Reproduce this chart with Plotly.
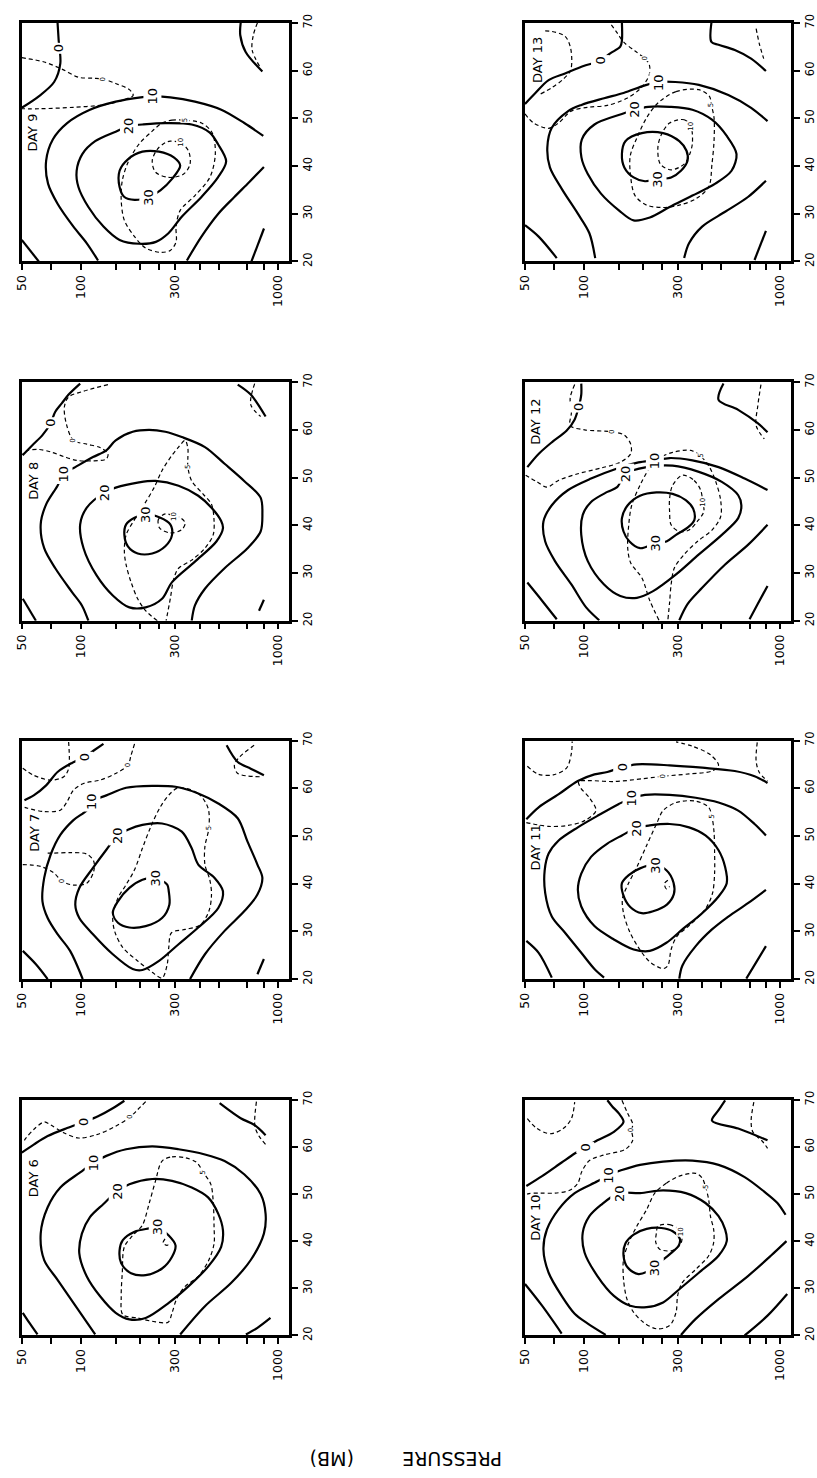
import math
import plotly.graph_objects as go

FIG_W, FIG_H = 817, 1478
FONT = "DejaVu Sans"

# ---- axes ----
P_RANGE = [50, 1140]
P_TICKS = [50, 70, 100, 150, 200, 250, 300, 400, 500, 700, 850, 1000]
P_TICK_TEXT = ["50", "", "100", "", "", "", "300", "", "", "", "", "1000"]
LAT_RANGE = [20, 70]
LAT_TICKS = [20, 30, 40, 50, 60, 70]
AXIS_TITLE = "PRESSURE" + "\u00a0" * 8 + "(MB)"

# ---- DAY 9 : (pressure mb, latitude) ----
D9_S0A = [(76, 70), (77, 66.3), (78.5, 61.5), (73, 57.6), (61, 54.6), (50, 52.2)]
D9_S0B = [(50, 24.5), (61, 20)]
D9_S0C = [(647, 70), (644, 67.4), (686, 63.9), (834, 59.8)]
D9_S0D = [(850, 26.9), (734, 20)]
D9_S10A = [(122, 20.2), (107, 23.8), (91.5, 27.3), (76, 32.1), (68, 36.3), (66.5, 41.1), (72, 45.6), (85, 49), (111, 51.8), (150, 53.5), (201, 54.4), (230, 54.6), (284, 54.4), (379, 53.5), (516, 51.8), (675, 49), (843, 46.3)]
D9_S10B = [(849, 39.8), (714, 36.6), (601, 33.5), (498, 30), (409, 25.2), (345, 20.2)]
D9_S20 = [(176, 48.4), (205, 48.7), (268, 49), (365, 48.7), (451, 47), (496, 44.6), (546, 41), (496, 37.6), (409, 33.5), (324, 29.3), (278, 25.9), (240, 24.1), (197, 23.7), (157, 24.5), (130, 27.3), (109, 31.4), (97, 35.6), (95, 39), (101.5, 42.5), (118, 45.2), (150, 47.2), (176, 48.4)]
D9_S30 = [(221, 33.5), (253, 34.9), (290, 37.3), (319, 40.1), (296, 41.8), (249, 43), (205, 43), (173, 41.4), (157, 39), (157, 35.6), (166, 33.5), (187, 32.9), (221, 33.5)]
D9_D0 = [(50, 62.7), (65, 61.8), (80, 60.3), (97, 58.6), (115, 58.4), (130, 58.2), (150, 57.3), (176, 56), (184, 54.8), (160, 53.7), (130, 52.8), (91.5, 52.3), (62, 52), (50, 52)]
D9_D5 = [(258, 49), (290, 49.6), (338, 49.6), (409, 49), (463, 47), (481, 42.5), (451, 37.6), (379, 33.8), (319, 30.7), (304, 27.3), (304, 24.1), (284, 22.3), (253, 21.9), (213, 22.8), (187, 25.2), (166, 28.6), (160, 32.8), (162, 36.9), (173, 40.7), (197, 44.6), (230, 47.3), (258, 49)]
D9_D10 = [(284, 45.2), (319, 44.9), (351, 43.2), (358, 40.4), (332, 38.3), (279, 37.6), (239, 38.7), (230, 41.1), (244, 43.5), (268, 44.9), (284, 45.2)]
D9_DTR = [(787, 70), (750, 67.4), (740, 64.3), (817, 60.5)]
D9_SL = [("0", 77, 64.6), ("10", 230, 54.6), ("20", 176, 48.4), ("30", 221, 33.5)]
D9_DL = [("0", 130, 58.2), ("5", 338, 49.6), ("10", 319, 44.9)]

# ---- DAY 13 ----
D13_S0A = [(50, 53), (56.5, 55.3), (66, 58), (80, 59.4), (93, 60.5), (102, 61.1), (120, 62), (136, 63.6), (153, 65), (156, 66.3), (156, 70)]
D13_S0B = [(446, 70), (446, 66), (485, 65.4), (587, 64.3), (711, 62.5), (846, 59.9)]
D13_S0C = [(50, 27.6), (58.7, 25.2), (72.6, 20.7)]
D13_S0D = [(846, 26.4), (740, 20.3)]
D13_S10A = [(114, 20.7), (106.5, 25.9), (93, 30), (77, 35.2), (67, 39.7), (65, 43.9), (68.5, 48), (83, 51.5), (97, 52.8), (126.5, 54.2), (159, 55.3), (204.5, 56.9), (238, 57.6), (292, 57.6), (385, 57), (544, 54.9), (711, 52.2), (862, 49.4)]
D13_S10B = [(846, 36.9), (685, 33.5), (524, 30.4), (400, 27.3), (343, 23.8), (324, 20.7)]
D13_S20 = [(182, 51.8), (212.5, 52.4), (273, 52.4), (357, 51.8), (449, 49.7), (534, 46.3), (599, 42.5), (565, 39), (467, 36.3), (357, 33.8), (273, 31.4), (216.5, 29.2), (179, 28.6), (150.5, 30.7), (122, 34.2), (104.5, 38.3), (97, 41.8), (97.5, 45.6), (113, 48.7), (156, 50.9), (182, 51.8)]
D13_S30 = [(238, 37.3), (278, 37.6), (312, 39), (337, 41.1), (333, 43.2), (306, 45.2), (253, 46.9), (197, 46.9), (162.5, 45.2), (156, 42.5), (160.5, 39.7), (179, 37.6), (204.5, 36.8), (238, 37.3)]
D13_D0A = [(63.4, 68.3), (68.5, 68.2), (80, 67.2), (85.5, 64.6), (85.5, 60.1), (78.3, 58.2), (68.5, 56.4), (60, 55.1)]
D13_D0B = [(50, 50.9), (55.4, 49), (66, 47.9), (74, 49), (86, 51.5), (104.5, 52.3), (131.5, 52.7), (165.5, 54.2), (194.5, 56.3), (215, 59.1), (215, 61.3), (204.5, 62.5), (182, 64.1), (159, 66), (147.5, 67.9), (136.5, 69.8)]
D13_D5 = [(238, 53.2), (294.5, 55.6), (385, 56), (436, 54.6), (446, 52.8), (460, 50.1), (460, 45.2), (449, 40.4), (432, 35.6), (371, 33.1), (306, 31.8), (253, 31.3), (208.5, 31.8), (182, 33.8), (173, 37.6), (172, 42.1), (186, 45.9), (208.5, 50.1), (238, 53.2)]
D13_D10 = [(273, 49), (324, 49.7), (350, 48.4), (357, 44.9), (346, 42.5), (324, 40.4), (278, 39.2), (245, 40.4), (238, 43.9), (248, 46.6), (273, 49)]
D13_DTR = [(754, 68.8), (783, 65.6), (824, 62.5)]
D13_SL = [("0", 120, 62), ("10", 238, 57.6), ("20", 182, 51.8), ("30", 238, 37.3)]
D13_DL = [("0", 204.5, 62.5), ("5", 441, 52.8), ("10", 350, 48.4)]

# ---- DAY 8 ----
D8_S0A = [(99, 69.7), (86.5, 67.4), (80, 65.6), (74, 63.8), (70, 61.4), (63.7, 58.9), (56.6, 56.8), (50.5, 54.7)]
D8_S0B = [(50.6, 24.6), (59, 20)]
D8_S0C = [(625, 69.5), (728, 67.4), (866, 62.8)]
D8_S0D = [(849, 24.4), (802, 22.1)]
D8_S10 = [(109, 20), (101, 23.2), (90, 26), (74, 31), (65, 35.2), (62.4, 40.2), (66.5, 44.4), (76, 48.3), (81.7, 50.8), (93.5, 52.2), (115, 54.3), (134.5, 55.7), (150, 57.8), (183, 59.6), (221.5, 60), (268, 59.6), (325, 58.5), (426, 56.4), (536, 52.9), (674, 49.3), (817, 45.8), (834, 42.3), (817, 38.7), (701, 35.2), (536, 31), (426, 26.7), (379, 23.2), (365, 20)]
D8_S20 = [(132, 46.9), (150, 47.9), (197, 49), (239, 49.3), (313, 48.3), (394, 46.2), (460, 43.7), (515, 40.9), (526, 39.4), (487, 36.6), (379, 32.4), (290, 28.1), (258, 24.6), (213, 22.8), (176, 22.8), (145, 25.3), (120, 29.5), (103, 35.2), (99, 40.2), (107, 43.7), (132, 46.9)]
D8_S30 = [(213, 42.3), (253, 41.6), (284, 40.2), (290, 38), (268, 35.6), (230, 34.1), (194, 34.1), (173, 35.6), (166, 38), (169.5, 40.2), (187, 41.6), (213, 42.3)]
D8_D0 = [(137, 69.5), (103, 68.1), (86.5, 66.9), (82.3, 64.8), (84.3, 61.2), (91.5, 57.8), (107, 57), (125, 56.3), (137, 55), (134.5, 53.9), (113, 53.5), (95, 53.6), (81.7, 54.4), (70, 55.4), (61, 55.9), (53.6, 55.7), (50.6, 55)]
D8_D5 = [(244, 20), (213, 22.1), (194, 24.6), (179.5, 28.1), (169.5, 31.7), (166, 34.5), (169.5, 38), (187, 41.2), (209.5, 44.4), (235, 47.9), (258, 51.5), (290, 54.7), (313, 56.4), (338, 57.8), (349, 56.1), (349, 54.3), (349, 52.2), (365, 49.3), (418, 46.5), (460, 44.4), (474, 40.9), (469, 38), (426, 35.2), (365, 32.7), (313, 31), (296, 28.8), (284, 24.6), (270.5, 20)]
D8_D10 = [(268, 42.4), (247, 41.2), (251, 39.4), (284, 38.4), (325, 39.1), (338, 40.5), (319, 41.6), (299, 41.9), (268, 42.4)]
D8_DTR = [(762, 69.7), (728, 65.3), (817, 62.8)]
D8_SL = [("0", 70, 61.4), ("10", 81.7, 50.8), ("20", 132, 46.9), ("30", 213, 42.3)]
D8_DL = [("0", 91.5, 57.8), ("5", 349, 52.2), ("10", 299, 41.9)]

# ---- DAY 12 ----
D12_S0A = [(96.8, 69.7), (96.8, 67.4), (93.8, 64.7), (89.6, 62.2), (81.4, 59.8), (68.5, 57.4), (58.8, 55), (51.4, 52.2)]
D12_S0B = [(514, 69.7), (485, 66.3), (611, 64.2), (768, 61.4), (862, 59.5)]
D12_S0C = [(51.4, 28), (61.1, 24.2), (72.6, 20.3)]
D12_S0D = [(862, 27.3), (768, 23.5), (698, 20.3)]
D12_S10A = [(119.5, 20.1), (102.5, 22.8), (86.2, 27.6), (71.1, 32.5), (63.4, 36.6), (62.1, 40.8), (68.5, 44.2), (83, 47.4), (108.6, 49.8), (147.5, 51.9), (189.5, 53.2), (229.5, 53.6), (273, 54.1), (357, 53.6), (485, 52.2), (659, 49.8), (862, 47.4)]
D12_S10B = [(862, 40.1), (685, 35.9), (524, 31.8), (400, 26.9), (337, 23.5), (306, 20.1)]
D12_S20 = [(162.5, 50.8), (208.5, 52.2), (283, 52.5), (385, 51.2), (504, 49.1), (611, 46.3), (634, 44.2), (611, 41.5), (504, 38), (385, 33.9), (294.5, 29.7), (225, 26.2), (186, 24.8), (153, 25.2), (126.5, 27.6), (104.5, 32.5), (96.8, 38), (98.5, 42.2), (108.6, 44.9), (131.5, 47), (147.5, 48), (162.5, 50.8)]
D12_S30 = [(234, 36.3), (193, 35.2), (170.5, 36.6), (159, 38.7), (156, 41.5), (167, 44.2), (193, 46.2), (234, 46.9), (283, 46.6), (330, 45.3), (360, 43.5), (365, 41.1), (337, 39.5), (294.5, 38), (263, 36.6), (234, 36.3)]
D12_D0 = [(89.6, 69.5), (85, 66.7), (86.2, 63.6), (85, 60.9), (100.6, 60), (139.3, 59.6), (160.5, 58.9), (173, 57), (173, 55), (153, 53.2), (122, 52), (93, 50.8), (74, 49.4), (64.7, 48), (57.6, 49.1), (50.4, 50.5)]
D12_D5 = [(241, 20.1), (216.5, 24.2), (197, 29), (173, 32.1), (167, 35.2), (169, 40.1), (175, 44.2), (193, 48.4), (215, 51.9), (238, 53.9), (283, 55.3), (350, 55.7), (393, 54.5), (436, 52.2), (470, 49.1), (497, 45.3), (497, 41.8), (449, 39), (378, 36.6), (324, 33.9), (289, 31.1), (278, 27.6), (273, 23.8), (267.5, 20.1)]
D12_D10 = [(318, 50.5), (364, 49.4), (393, 47.4), (403, 44.9), (408, 42.9), (378, 40.8), (343, 39), (306, 38.7), (278, 40.1), (273, 42.9), (273, 45.6), (283, 48.4), (318, 50.5)]
D12_DTR = [(798, 69.5), (768, 64.9), (754, 60.9), (830, 58.1)]
D12_SL = [("0", 93.8, 64.7), ("10", 229.5, 53.6), ("20", 162.5, 50.8), ("30", 234, 36.3)]
D12_DL = [("0", 139.3, 59.6), ("5", 393, 54.5), ("10", 403, 44.9)]

# ---- DAY 7 ----
D7_S0A = [(130, 69.3), (116, 67.9), (103.7, 66.5), (90, 65.3), (76, 63.4), (66.5, 60.6), (57.5, 58.5), (51.6, 57.5)]
D7_S0B = [(50.6, 25.9), (59, 23.1), (67.7, 20)]
D7_S0C = [(549, 69), (625, 65.5), (728, 64.1), (849, 62.7)]
D7_S0D = [(849, 24.2), (787, 21)]
D7_S10 = [(102, 20), (88, 25.9), (76, 29.4), (67.7, 32.8), (63.7, 36.3), (65, 41.2), (70, 46), (78.5, 50.2), (91.5, 53.3), (107, 55.4), (113, 57.2), (134.5, 58.5), (169.5, 60.1), (230, 60.5), (302, 60.3), (394, 58.9), (498, 56.8), (625, 53.7), (701, 48.8), (787, 44), (834, 41.2), (787, 37.7), (674, 34.2), (536, 30.1), (426, 25.2), (358, 20)]
D7_S20 = [(154, 50.2), (134.5, 47.1), (115, 43.3), (98, 39.1), (93.5, 35.6), (98, 32.8), (115, 29.4), (145, 25.2), (183, 22.1), (205, 21.9), (249, 23.8), (313, 27.3), (394, 30.8), (498, 34.9), (526, 38.4), (477, 41.2), (394, 44), (365, 47.4), (325, 50.9), (258, 52.6), (205, 52.3), (173, 51.3), (154, 50.2)]
D7_S30 = [(239, 41.2), (274, 39.8), (279, 38.4), (281, 35.6), (258, 32.8), (213, 31.1), (176, 30.8), (154, 31.8), (145, 33.9), (154, 36.3), (176, 39.1), (205, 40.8), (239, 41.2)]
D7_D0A = [(50.6, 64.2), (57.5, 62.7), (70, 61.7), (81.7, 62.4), (86.5, 64.1), (86.5, 69.7)]
D7_D0B = [(187, 69.3), (179.5, 66.9), (173, 64.8), (150, 63.1), (125, 61.7), (103, 61), (91.5, 59.6), (85, 57.2), (78.5, 55.4), (65, 55.1), (53.6, 55.8), (50.6, 56.1)]
D7_D0C = [(50.6, 44), (62.4, 43.6), (73, 42.2), (80, 40.5), (91.5, 39.7), (107, 40.1), (116, 42.6), (116, 44.7), (107, 46.2), (88, 46.5), (73, 46.4), (67.7, 46.4)]
D7_D5 = [(313, 60.1), (394, 58.9), (442, 55.8), (446, 51.6), (426, 47.8), (426, 44), (451, 40.8), (460, 37.7), (446, 34.2), (402, 31.3), (338, 30.4), (288, 29.7), (279, 26.6), (274, 23.1), (258, 20.2), (230, 21.4), (194, 23.8), (163, 26.6), (148, 30.1), (145, 33.2), (154, 37), (169.5, 39.8), (187, 42.9), (205, 47.4), (226, 51.9), (253, 56.1), (284, 58.9), (313, 60.1)]
D7_DTR = [(757, 69), (637, 66.5), (601, 64.8), (625, 63.1), (817, 62.4)]
D7_SL = [("0", 103.7, 66.5), ("10", 113, 57.2), ("20", 154, 50.2), ("30", 239, 41.2)]
D7_DL = [("0", 173, 64.8), ("0", 80, 40.5), ("5", 446, 51.6)]

# ---- DAY 11 ----
D11_S0A = [(50.8, 53.5), (58.7, 56), (74, 58.7), (93, 61.5), (113, 62.9), (131.5, 63.4), (156, 64.4), (186, 65), (273, 64.8), (400, 64.3), (587, 63.6), (740, 62.5), (862, 61.1)]
D11_S0B = [(50.8, 28), (58.7, 25.5), (68.5, 20.3)]
D11_S0C = [(846, 26.9), (754, 23.5), (672, 20.1)]
D11_S10A = [(126.5, 20.3), (113, 22.1), (96.8, 25.5), (80, 29.7), (68.5, 33.1), (63.4, 38), (63, 42.8), (66, 46.3), (74, 49), (93, 51.8), (117, 54.2), (150.5, 56.7), (174, 57.9), (204.5, 58.6), (273, 58.6), (371, 58), (485, 57), (611, 55.3), (740, 52.5), (846, 50.1)]
D11_S10B = [(846, 38.7), (685, 35.9), (544, 33.1), (449, 30.4), (371, 26.9), (317, 22.8), (306, 20.1)]
D11_S20 = [(186, 51.7), (216.5, 52.2), (273, 52.5), (343, 51.8), (416, 50.1), (485, 47), (524, 43.5), (534, 40.1), (485, 37.3), (400, 33.8), (317, 30.4), (263, 27.6), (216.5, 25.9), (179, 26.2), (142, 28.3), (113, 31.1), (96.8, 35.2), (93, 38.7), (96.8, 42.1), (108.6, 45.6), (131.5, 48.4), (156, 50.1), (186, 51.7)]
D11_S30 = [(229.5, 43.9), (263, 42.8), (286, 40.2), (287, 37.8), (264.5, 35.6), (225, 34.2), (197, 33.8), (172, 35.1), (158, 37.8), (156, 40.1), (169, 41.8), (193, 43.2), (229.5, 43.9)]
D11_D0A = [(51.4, 64.6), (58.7, 62.9), (69.7, 62.8), (81.4, 64.2), (86.2, 67.3), (87, 69.8)]
D11_D0B = [(50.8, 52.8), (66, 52), (83, 52.2), (100.6, 53.2), (115, 55.3), (106.5, 58), (96, 60.1), (93.8, 61.4), (104.5, 61.6), (142, 61.4), (200.5, 62), (253, 62.5), (343, 63), (449, 63.6), (485, 64.8), (441, 67), (357, 68.8), (294.5, 69.7)]
D11_D5 = [(253, 55.3), (294.5, 57), (371, 57.3), (432, 56), (449, 54), (460, 50.8), (463, 46.6), (463, 42.1), (452, 38), (419, 34.9), (378, 32.8), (337, 30.9), (297, 28.9), (278, 26.2), (267.5, 22.8), (253, 22.2), (216.5, 23.6), (189.5, 26.6), (170.5, 30), (159, 33.8), (157, 36.9), (167, 39.7), (186, 43.5), (208.5, 48), (234, 52.5), (253, 55.3)]
D11_D10 = [(267.5, 40.7), (257, 40), (263, 38.9), (273, 39.4)]
D11_DTR = [(764, 69.6), (754, 65.7), (783, 63.3), (862, 61.5)]
D11_SL = [("0", 156, 64.4), ("10", 174, 57.9), ("20", 186, 51.7), ("30", 229.5, 43.9)]
D11_DL = [("0", 253, 62.5), ("5", 449, 54)]

# ---- DAY 6 ----
D6_S0A = [(50, 58.8), (57.5, 60.5), (67.7, 62.3), (85, 64), (103.7, 65.3), (122, 66.5), (145, 68.2), (166, 69.8)]
D6_S0B = [(50.6, 24.8), (54.6, 22.7), (60.1, 20.2)]
D6_S0C = [(506, 69.3), (647, 66.1), (757, 64.7), (866, 62.5)]
D6_S0D = [(917, 23.7), (787, 21.6), (688, 20.2)]
D6_S10 = [(118, 20.2), (91.5, 26.9), (76, 31.8), (65, 36), (62.4, 41.6), (67.7, 47.2), (78.5, 51.4), (99, 54.6), (116, 56.7), (134.5, 58.1), (169.5, 59.5), (230, 60.1), (313, 59.5), (426, 58.4), (536, 57), (674, 54.2), (817, 50), (866, 45.8), (849, 41.6), (728, 36), (578, 31.1), (426, 26.2), (319, 20.2)]
D6_S20 = [(154, 50.7), (176, 52.1), (230, 53.2), (290, 52.8), (365, 51.4), (442, 49.3), (498, 45.8), (526, 42.3), (515, 38.8), (442, 34.6), (351, 30.4), (279, 26.9), (213, 23.7), (176, 23.4), (150, 24.8), (125, 28.3), (107, 32.5), (98, 37.4), (101, 41.6), (111, 45.1), (130, 47.9), (154, 50.7)]
D6_S30 = [(244, 43), (279, 41.2), (302, 39.1), (290, 36.7), (258, 34.2), (213, 32.8), (179.5, 33.2), (160, 35.3), (157, 38.1), (163, 40.2), (187, 42), (221.5, 42.7), (244, 43)]
D6_D0 = [(213, 69.6), (194, 67.9), (177, 66.3), (150, 64.4), (120, 62.6), (97, 61.9), (81.7, 63), (70, 64.7), (65, 65.3), (57.5, 63.7), (52.6, 61.9), (51.2, 61.2)]
D6_D5 = [(258, 57), (290, 57.9), (338, 57.7), (387, 56.7), (418, 54.6), (456, 52.1), (469, 48.6), (474, 43), (474, 39.5), (446, 36), (394, 32.5), (338, 30.4), (307, 27.9), (290, 24.8), (277, 22.8), (230, 23), (194, 23.7), (163, 24.4), (160, 28.3), (162, 33.2), (166, 38.8), (183, 41.2), (205, 43.4), (221.5, 47.9), (239, 52.8), (258, 57)]
D6_D10 = [(267, 40.5), (261, 39.6), (274, 39.1), (284, 39.8)]
D6_DTR = [(778, 69.6), (764, 64.4), (802, 62.3), (866, 60.5)]
D6_SL = [("0", 103.7, 65.3), ("10", 116, 56.7), ("20", 154, 50.7), ("30", 244, 43)]
D6_DL = [("0", 177, 66.3), ("5", 418, 54.6)]

# ---- DAY 10 ----
D10_S0A = [(50.8, 51.7), (61.1, 53.8), (76.9, 56.7), (89.6, 58.6), (101.3, 59.9), (117, 61.4), (142, 63.2), (159, 65.3), (150.5, 67.1), (139.3, 68.6), (131.5, 69.9)]
D10_S0B = [(50, 30.9), (61.1, 26.3), (76.9, 20.4)]
D10_S0C = [(524, 69.9), (485, 67.8), (449, 65.6), (611, 63.9), (862, 61.4)]
D10_S0D = [(1086, 28.8), (862, 24.2), (659, 20)]
D10_S10A = [(129, 20.1), (104.5, 22.5), (89.6, 24.6), (76.9, 28.4), (66, 33.3), (62.1, 38.3), (64.7, 42.5), (74, 46.7), (89.6, 50.2), (117, 52.7), (134, 54.1), (156, 55.1), (193, 56.2), (253, 56.9), (357, 57.1), (485, 56.2), (659, 53.6), (830, 50.5), (968, 48.1), (1065, 45.6)]
D10_S10B = [(1077, 40), (896, 36.9), (685, 32.6), (485, 27.7), (371, 23.5), (312, 20.1)]
D10_S20 = [(150.5, 50.2), (193, 50.2), (253, 50.8), (330, 50.2), (416, 48.1), (485, 45.3), (524, 42.5), (534, 40), (485, 36.9), (385, 33.3), (306, 29.8), (253, 27), (208.5, 26), (172, 26.3), (142, 28.4), (117, 32.6), (100.6, 37.6), (98.5, 41.8), (106.5, 45.3), (122, 47.7), (150.5, 50.2)]
D10_S30 = [(229.5, 34.4), (189.5, 33), (167, 34.4), (159, 36.9), (162.5, 39.5), (179, 41.4), (208.5, 42.6), (248, 42.8), (283, 42.1), (308, 40.5), (304, 39.1), (273, 37.2), (241, 35.4), (229.5, 34.4)]
D10_D0A = [(51.4, 66), (57.6, 63.9), (67.2, 62.8), (78.3, 63.9), (86.2, 66), (89.6, 69.5)]
D10_D0B = [(156, 69.9), (167, 67.1), (177, 64.9), (175, 63.5), (177, 61.4), (162.5, 59.5), (126.5, 58.3), (106.5, 57.1), (97.5, 54.8), (93, 52.3), (84.5, 50.8), (71.1, 50.2), (59.8, 50.2), (52.4, 50.1), (50, 49.8)]
D10_D5 = [(229.5, 50.2), (263, 52.3), (306, 53.8), (371, 54.4), (400, 53.4), (416, 51.6), (432, 48.8), (441, 45.3), (458, 42.5), (458, 39.7), (432, 36.9), (371, 34), (317, 31.2), (300, 28.4), (294.5, 24.9), (273, 22.1), (234, 21.4), (200.5, 22.8), (179, 24.9), (165.5, 27.7), (159, 31.9), (159, 36.2), (169, 39.7), (186, 43.2), (208.5, 46.7), (229.5, 50.2)]
D10_D10 = [(238, 43.2), (273, 43.5), (312, 42.1), (312, 39.5), (281, 38), (243, 38.3), (232, 39.8), (234, 41.8), (238, 43.2)]
D10_DTR = [(734, 69.5), (711, 65.6), (725, 63.2), (815, 61.1), (862, 59.7)]
D10_SL = [("0", 101.3, 59.9), ("10", 134, 54.1), ("20", 150.5, 50.2), ("30", 229.5, 34.4)]
D10_DL = [("0", 175, 63.5), ("5", 416, 51.6), ("10", 312, 42.1)]

# ---- panel table ----
PANELS = [
    dict(day="DAY 9", col=0, row=0, day_at=(57, 47.0),
         solid=[D9_S0A, D9_S0B, D9_S0C, D9_S0D, D9_S10A, D9_S10B, D9_S20, D9_S30],
         dashed=[D9_D0, D9_D5, D9_D10, D9_DTR], sl=D9_SL, dl=D9_DL),
    dict(day="DAY 8", col=0, row=1, day_at=(57.6, 49.3),
         solid=[D8_S0A, D8_S0B, D8_S0C, D8_S0D, D8_S10, D8_S20, D8_S30],
         dashed=[D8_D0, D8_D5, D8_D10, D8_DTR], sl=D8_SL, dl=D8_DL),
    dict(day="DAY 7", col=0, row=2, day_at=(57.5, 50.6),
         solid=[D7_S0A, D7_S0B, D7_S0C, D7_S0D, D7_S10, D7_S20, D7_S30],
         dashed=[D7_D0A, D7_D0B, D7_D0C, D7_D5, D7_DTR], sl=D7_SL, dl=D7_DL),
    dict(day="DAY 6", col=0, row=3, day_at=(57.5, 53.3),
         solid=[D6_S0A, D6_S0B, D6_S0C, D6_S0D, D6_S10, D6_S20, D6_S30],
         dashed=[D6_D0, D6_D5, D6_D10, D6_DTR], sl=D6_SL, dl=D6_DL),
    dict(day="DAY 13", col=1, row=0, day_at=(57.5, 62.2),
         solid=[D13_S0A, D13_S0B, D13_S0C, D13_S0D, D13_S10A, D13_S10B, D13_S20, D13_S30],
         dashed=[D13_D0A, D13_D0B, D13_D5, D13_D10, D13_DTR], sl=D13_SL, dl=D13_DL),
    dict(day="DAY 12", col=1, row=1, day_at=(56.6, 61.6),
         solid=[D12_S0A, D12_S0B, D12_S0C, D12_S0D, D12_S10A, D12_S10B, D12_S20, D12_S30],
         dashed=[D12_D0, D12_D5, D12_D10, D12_DTR], sl=D12_SL, dl=D12_DL),
    dict(day="DAY 11", col=1, row=2, day_at=(56.6, 47.5),
         solid=[D11_S0A, D11_S0B, D11_S0C, D11_S10A, D11_S10B, D11_S20, D11_S30],
         dashed=[D11_D0A, D11_D0B, D11_D5, D11_D10, D11_DTR], sl=D11_SL, dl=D11_DL),
    dict(day="DAY 10", col=1, row=3, day_at=(56, 44.9),
         solid=[D10_S0A, D10_S0B, D10_S0C, D10_S0D, D10_S10A, D10_S10B, D10_S20, D10_S30],
         dashed=[D10_D0A, D10_D0B, D10_D5, D10_D10, D10_DTR], sl=D10_SL, dl=D10_DL),
]

COL_PX = [(14, 286), (526, 797)]
ROW_PX = [(14, 255), (377, 618), (739, 980), (1102, 1340)]

fig = go.Figure()
annotations = []
layout_axes = {}

for i, pn in enumerate(PANELS, start=1):
    sfx = "" if i == 1 else str(i)
    xref, yref = "x" + sfx, "y" + sfx
    x0, x1 = COL_PX[pn["col"]]
    y0, y1 = ROW_PX[pn["row"]]
    layout_axes["xaxis" + sfx] = dict(
        domain=[x0 / FIG_W, x1 / FIG_W], anchor=yref, type="log",
        range=[math.log10(P_RANGE[0]), math.log10(P_RANGE[1])],
        tickvals=P_TICKS, ticktext=P_TICK_TEXT, tickangle=-90,
        ticks="outside", ticklen=6, tickwidth=1.8, tickcolor="black",
        showline=True, linewidth=2.5, linecolor="black", mirror=True,
        showgrid=False, zeroline=False,
        tickfont=dict(family=FONT, size=12.5, color="black"),
    )
    layout_axes["yaxis" + sfx] = dict(
        domain=[1 - y1 / FIG_H, 1 - y0 / FIG_H], anchor=xref, side="right",
        range=LAT_RANGE, tickvals=LAT_TICKS, tickangle=-90,
        ticks="outside", ticklen=6, tickwidth=1.8, tickcolor="black",
        showline=True, linewidth=2.5, linecolor="black", mirror=True,
        showgrid=False, zeroline=False,
        tickfont=dict(family=FONT, size=11.5, color="black"),
    )
    for seg in pn["solid"]:
        fig.add_trace(go.Scatter(
            x=[p for p, _ in seg], y=[v for _, v in seg], mode="lines",
            line=dict(color="black", width=2.2, shape="spline", smoothing=0.9),
            xaxis=xref, yaxis=yref, hoverinfo="skip", showlegend=False))
    for seg in pn["dashed"]:
        fig.add_trace(go.Scatter(
            x=[p for p, _ in seg], y=[v for _, v in seg], mode="lines",
            line=dict(color="black", width=1.2, dash="4px,3px", shape="spline", smoothing=0.9),
            xaxis=xref, yaxis=yref, hoverinfo="skip", showlegend=False))
    for txt, p, v in pn["sl"]:
        annotations.append(dict(
            x=math.log10(p), y=v, xref=xref, yref=yref, text=txt, showarrow=False,
            textangle=-90, bgcolor="white", borderpad=1,
            font=dict(family=FONT, size=13, color="black")))
    for txt, p, v in pn["dl"]:
        annotations.append(dict(
            x=math.log10(p), y=v, xref=xref, yref=yref, text=txt, showarrow=False,
            textangle=-90, bgcolor="white", borderpad=0,
            font=dict(family=FONT, size=7, color="black")))
    dp, dv = pn["day_at"]
    annotations.append(dict(
        x=math.log10(dp), y=dv, xref=xref, yref=yref, text=pn["day"], showarrow=False,
        textangle=-90, font=dict(family=FONT, size=13, color="black")))

annotations.append(dict(
    x=405 / FIG_W, y=1 - 1465 / FIG_H, xref="paper", yref="paper",
    xanchor="center", yanchor="middle",
    text=AXIS_TITLE, showarrow=False, textangle=180,
    font=dict(family=FONT, size=19, color="black")))

fig.update_layout(
    width=FIG_W, height=FIG_H,
    margin=dict(l=0, r=0, t=0, b=0),
    paper_bgcolor="white", plot_bgcolor="white",
    showlegend=False, annotations=annotations,
    **layout_axes,
)

fig.write_html("out.html")
